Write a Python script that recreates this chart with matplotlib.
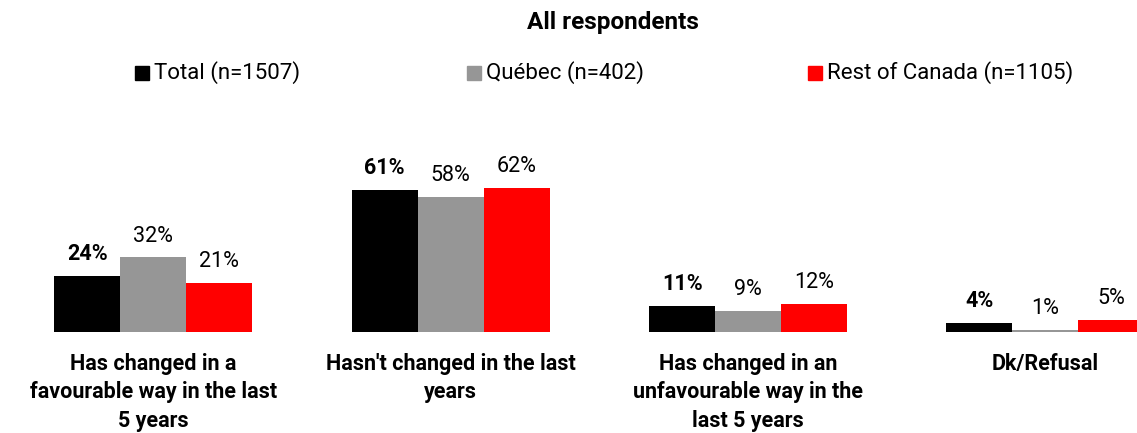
import matplotlib
matplotlib.use("Agg")
from matplotlib import pyplot as plt
from matplotlib.patches import Rectangle
import numpy as np

categories = [
    "Has changed in a\nfavourable way in the last\n5 years",
    "Hasn't changed in the last\nyears",
    "Has changed in an\nunfavourable way in the\nlast 5 years",
    "Dk/Refusal",
]
series_names = ["Total (n=1507)", "Québec (n=402)", "Rest of Canada (n=1105)"]
total = [24, 61, 11, 4]
quebec = [32, 58, 9, 1]
rest_of_canada = [21, 62, 12, 5]
colors = ["#000000", "#969696", "#ff0000"]

plt.rcParams["font.family"] = ["Roboto", "DejaVu Sans"]

fig = plt.figure(figsize=(11.37, 4.33), dpi=100)
ax = fig.add_axes([0, 0.2333, 1, 0.3764])

x = np.arange(len(categories))
width = 0.222
values = [total, quebec, rest_of_canada]
for i, (vals, col) in enumerate(zip(values, colors)):
    pos = x + (i - 1) * width
    ax.bar(pos, vals, width=width, color=col)
    for p, v in zip(pos, vals):
        ax.annotate(f"{v}%", (p, v), xytext=(0, 11.5), textcoords="offset points",
                    ha="center", va="baseline", fontsize=15.5,
                    fontweight="bold" if i == 0 else "normal")

ax.set_xlim(-0.516, 3.308)
ax.set_ylim(0, 70)
ax.set_xticks(x)
ax.set_xticklabels(categories, fontsize=15.5, fontweight="bold", linespacing=1.38)
ax.tick_params(axis="x", length=0, pad=15)
ax.set_yticks([])
for s in ax.spines.values():
    s.set_visible(False)

fig.text(0.539, 0.949, "All respondents", ha="center", va="center",
         fontsize=17.5, fontweight="bold")

# legend, drawn by hand to keep the wide spacing
leg_x = [135, 467, 808]
for lx, name, col in zip(leg_x, series_names, colors):
    fig.patches.append(Rectangle((lx / 1137, (433 - 80) / 433), 14 / 1137, 14 / 433,
                                 transform=fig.transFigure, color=col))
    fig.text((lx + 19) / 1137, (433 - 73) / 433, name, ha="left", va="center",
             fontsize=16)

fig.savefig("out.png", dpi=100)
